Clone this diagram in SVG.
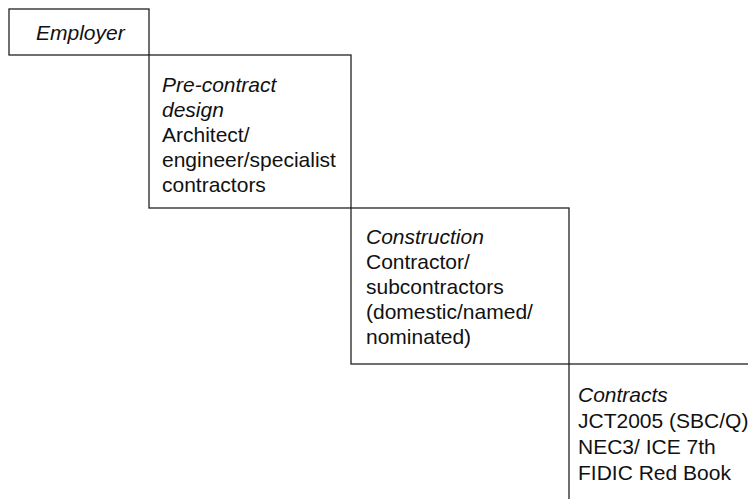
<svg xmlns="http://www.w3.org/2000/svg" width="748" height="499" viewBox="0 0 748 499">
  <style>
    .box { fill: #ffffff; stroke: #222222; stroke-width: 1.3; }
    .lbl { font-family: "Liberation Sans", Arial, sans-serif; font-size: 21px; fill: #111111; }
    .it { font-style: italic; }
  </style>
  <rect x="0" y="0" width="748" height="499" fill="#ffffff"/>

  <!-- Stepped stages: each box hangs from the corner of the one before -->
  <g id="employer">
    <rect class="box" x="9" y="9" width="140" height="46"/>
    <text class="lbl it" x="36" y="40">Employer</text>
  </g>

  <g id="pre-contract">
    <rect class="box" x="149" y="55" width="202" height="153"/>
    <text class="lbl" x="162">
      <tspan class="it" x="162" y="92">Pre-contract</tspan>
      <tspan class="it" x="162" y="117">design</tspan>
      <tspan x="162" y="142">Architect/</tspan>
      <tspan x="162" y="167">engineer/specialist</tspan>
      <tspan x="162" y="192">contractors</tspan>
    </text>
  </g>

  <g id="construction">
    <rect class="box" x="351" y="208" width="218" height="156"/>
    <text class="lbl" x="366">
      <tspan class="it" x="366" y="244">Construction</tspan>
      <tspan x="366" y="269">Contractor/</tspan>
      <tspan x="366" y="294">subcontractors</tspan>
      <tspan x="366" y="319">(domestic/named/</tspan>
      <tspan x="366" y="344">nominated)</tspan>
    </text>
  </g>

  <g id="contracts">
    <rect class="box" x="569" y="364" width="200" height="160"/>
    <text class="lbl" x="578">
      <tspan class="it" x="578" y="402">Contracts</tspan>
      <tspan x="578" y="428">JCT2005 (SBC/Q)</tspan>
      <tspan x="578" y="454">NEC3/ ICE 7th</tspan>
      <tspan x="578" y="480">FIDIC Red Book</tspan>
    </text>
  </g>

  <g id="connectors"></g>
</svg>
